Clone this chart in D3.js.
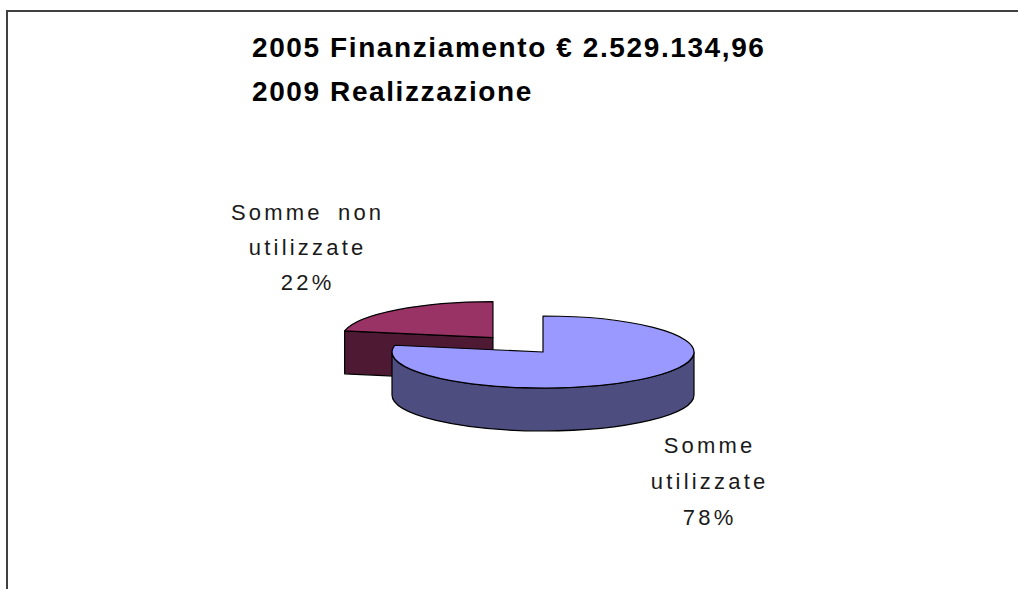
<!DOCTYPE html>
<html>
<head>
<meta charset="utf-8">
<script src="https://cdn.jsdelivr.net/npm/d3@7"></script>
<style>
  html, body { margin: 0; padding: 0; background: #fff; overflow: hidden; }
  .container { width: 1018px; height: 589px; }
</style>
</head>
<body>
<div class="container"></div>
<script>
// dati del grafico
var categories = ['Somme utilizzate', 'Somme non utilizzate'];
var values = [78, 22];
var labelLines = [['Somme', 'utilizzate'], ['Somme non', 'utilizzate']];
var titleLines = ['2005 Finanziamento \u20ac 2.529.134,96', '2009 Realizzazione'];

var topColors = ['#9999ff', '#993366'];
var sideColors = ['#4d4d80', '#4d1933'];
// quanto esce la fetta (frazione del raggio)
var explode = [0, 0.52];

var width = 1018, height = 589;
var svg = d3.select('.container')
  .append('svg')
  .attr('width', width)
  .attr('height', height);

// cornice del grafico
svg.append('rect')
  .attr('x', 7)
  .attr('y', 11)
  .attr('width', 1100)
  .attr('height', 700)
  .attr('fill', 'none')
  .attr('stroke', '#404040')
  .attr('stroke-width', 2);

// titolo
svg.selectAll('text.title')
  .data(titleLines)
  .enter()
  .append('text')
  .attr('class', 'title')
  .attr('x', 252)
  .attr('y', function(d, i) { return 57 + i * 44; })
  .attr('font-family', 'Liberation Sans, Arial, sans-serif')
  .attr('font-weight', 'bold')
  .attr('font-size', 28)
  .attr('letter-spacing', 1.6)
  .attr('fill', '#000')
  .text(function(d) { return d; });

// torta 3D
var cx = 543, cy = 352,
  rx = 151, ry = 36,
  depth = 43;

var pie = d3.pie().sort(null).value(function(d) { return d; });
var slices = pie(values).map(function(d, i) {
  var mid = (d.startAngle + d.endAngle) / 2;
  d.index = i;
  d.mid = mid;
  d.ox = cx + Math.sin(mid) * rx * explode[i];
  d.oy = cy - Math.cos(mid) * ry * explode[i];
  return d;
});

function pt(d, a, dz) {
  return [d.ox + rx * Math.sin(a), d.oy - ry * Math.cos(a) + (dz || 0)];
}

function topPath(d) {
  var p0 = pt(d, d.startAngle), p1 = pt(d, d.endAngle);
  var large = (d.endAngle - d.startAngle) > Math.PI ? 1 : 0;
  return 'M' + d.ox + ',' + d.oy +
    'L' + p0 + 'A' + rx + ',' + ry + ' 0 ' + large + ' 1 ' + p1 + 'Z';
}

// parte anteriore del bordo esterno (tra 90 e 270 gradi)
function outerPath(d) {
  var s = Math.max(d.startAngle, Math.PI / 2),
    e = Math.min(d.endAngle, 3 * Math.PI / 2);
  if (e <= s) return null;
  var large = (e - s) > Math.PI ? 1 : 0;
  return 'M' + pt(d, s) +
    'A' + rx + ',' + ry + ' 0 ' + large + ' 1 ' + pt(d, e) +
    'L' + pt(d, e, depth) +
    'A' + rx + ',' + ry + ' 0 ' + large + ' 0 ' + pt(d, s, depth) + 'Z';
}

function facePath(d, a) {
  return 'M' + d.ox + ',' + d.oy +
    'L' + pt(d, a) + 'L' + pt(d, a, depth) +
    'L' + d.ox + ',' + (d.oy + depth) + 'Z';
}

// disegna dal fondo verso il davanti
var order = slices.slice().sort(function(a, b) {
  return (-Math.cos(a.mid)) - (-Math.cos(b.mid));
});

var pieG = svg.append('g').attr('class', 'pie');
order.forEach(function(d) {
  var g = pieG.append('g');
  var style = function(sel, fill) {
    sel.attr('fill', fill)
      .attr('stroke', '#000')
      .attr('stroke-width', 1.2)
      .attr('stroke-linejoin', 'round');
  };
  if (Math.sin(d.startAngle) < -1e-6) {
    style(g.append('path').attr('d', facePath(d, d.startAngle)), sideColors[d.index]);
  }
  if (Math.sin(d.endAngle) > 1e-6) {
    style(g.append('path').attr('d', facePath(d, d.endAngle)), sideColors[d.index]);
  }
  var op = outerPath(d);
  if (op) style(g.append('path').attr('d', op), sideColors[d.index]);
  style(g.append('path').attr('d', topPath(d)), topColors[d.index]);
});

// etichette
var labelPos = [[708, 453], [306, 220]];
var labelGap = [36, 35];
var total = d3.sum(values);
var labels = svg.selectAll('g.label')
  .data(slices)
  .enter()
  .append('g')
  .attr('class', 'label');

labels.each(function(d) {
  var lines = labelLines[d.index].concat([Math.round(d.value / total * 100) + '%']);
  var pos = labelPos[d.index];
  d3.select(this).selectAll('text')
    .data(lines)
    .enter()
    .append('text')
    .attr('x', pos[0] + 1.6)
    .attr('y', function(t, i) { return pos[1] + i * labelGap[d.index]; })
    .attr('text-anchor', 'middle')
    .attr('font-family', 'Liberation Sans, Arial, sans-serif')
    .attr('font-size', 22)
    .attr('letter-spacing', 3.2)
    .attr('word-spacing', 6)
    .attr('fill', '#1a1a1a')
    .text(function(t) { return t; });
});
</script>
</body>
</html>
